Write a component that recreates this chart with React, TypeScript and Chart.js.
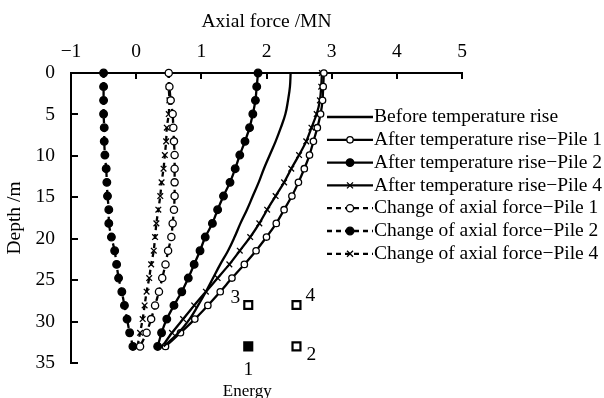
import { useEffect, useRef } from 'react';
import { Chart, registerables } from 'chart.js';

Chart.register(...registerables);

// Depth of each measuring point along the pile (m)
const depths = [0, 1.65, 3.3, 4.95, 6.6, 8.25, 9.9, 11.55, 13.2, 14.85, 16.5, 18.15, 19.8, 21.45, 23.1, 24.75, 26.4, 28.05, 29.7, 31.35, 33];

// Axial force (MN)
const beforeRise = [2.37, 2.36, 2.33, 2.29, 2.22, 2.14, 2.05, 1.96, 1.88, 1.79, 1.70, 1.60, 1.51, 1.41, 1.29, 1.18, 1.07, 0.95, 0.82, 0.65, 0.42];
const afterPile1 = [2.88, 2.87, 2.86, 2.83, 2.78, 2.72, 2.66, 2.58, 2.49, 2.39, 2.27, 2.15, 2.00, 1.84, 1.66, 1.47, 1.29, 1.10, 0.90, 0.68, 0.45];
const afterPile2 = [1.87, 1.85, 1.83, 1.79, 1.74, 1.67, 1.59, 1.52, 1.44, 1.34, 1.25, 1.17, 1.06, 0.98, 0.89, 0.80, 0.70, 0.58, 0.47, 0.39, 0.33];
const afterPile4 = [2.85, 2.84, 2.82, 2.77, 2.69, 2.61, 2.50, 2.38, 2.27, 2.14, 2.01, 1.89, 1.75, 1.59, 1.43, 1.25, 1.07, 0.89, 0.72, 0.55, 0.40];
const changePile1 = [0.50, 0.51, 0.53, 0.56, 0.57, 0.58, 0.59, 0.59, 0.59, 0.59, 0.58, 0.56, 0.54, 0.49, 0.45, 0.40, 0.35, 0.29, 0.23, 0.16, 0.06];
const changePile2 = [-0.50, -0.50, -0.50, -0.50, -0.49, -0.49, -0.48, -0.46, -0.45, -0.44, -0.42, -0.42, -0.38, -0.33, -0.30, -0.27, -0.22, -0.18, -0.14, -0.10, -0.05];
const changePile4 = [0.50, 0.50, 0.51, 0.50, 0.47, 0.46, 0.44, 0.42, 0.39, 0.37, 0.34, 0.31, 0.29, 0.27, 0.23, 0.20, 0.16, 0.13, 0.10, 0.06, 0.02];

const seriesNames = [
  'Before temperature rise',
  'After temperature rise\u2212Pile 1',
  'After temperature rise\u2212Pile 2',
  'After temperature rise\u2212Pile 4',
  'Change of axial force\u2212Pile 1',
  'Change of axial force\u2212Pile 2',
  'Change of axial force\u2212Pile 4',
];

const forceTicks = [-1, 0, 1, 2, 3, 4, 5];
const depthTicks = [0, 5, 10, 15, 20, 25, 30, 35];

// Pile group sketch (drawn in the plot's own coordinates)
const pileForce = [1.72, 2.46, 1.72, 2.46];
const pileDepth = [33, 33, 28, 28];
const pileNames = ['1', '2', '3', '4'];
const energyCaption = 'Energy';

const FONT = "'Liberation Serif', 'Times New Roman', serif";

type Style = { dash: number[]; marker: '' | 'circle' | 'crossRot'; fill: string; radius: number };
const styles: Style[] = [
  { dash: [], marker: '', fill: '#000', radius: 0 },
  { dash: [], marker: 'circle', fill: '#fff', radius: 3.2 },
  { dash: [], marker: 'circle', fill: '#000', radius: 3.8 },
  { dash: [], marker: 'crossRot', fill: '#000', radius: 4 },
  { dash: [5, 4], marker: 'circle', fill: '#fff', radius: 3.6 },
  { dash: [5, 4], marker: 'circle', fill: '#000', radius: 3.8 },
  { dash: [5, 4], marker: 'crossRot', fill: '#000', radius: 4 },
];
const seriesValues = [beforeRise, afterPile1, afterPile2, afterPile4, changePile1, changePile2, changePile4];

function drawMarker(ctx: CanvasRenderingContext2D, s: Style, x: number, y: number) {
  if (!s.marker) return;
  ctx.save();
  ctx.setLineDash([]);
  ctx.lineWidth = 1.3;
  ctx.strokeStyle = '#000';
  if (s.marker === 'circle') {
    ctx.beginPath();
    ctx.arc(x, y, s.radius, 0, Math.PI * 2);
    ctx.fillStyle = s.fill;
    ctx.fill();
    ctx.stroke();
  } else {
    const r = s.radius * 0.75;
    ctx.beginPath();
    ctx.moveTo(x - r, y - r);
    ctx.lineTo(x + r, y + r);
    ctx.moveTo(x + r, y - r);
    ctx.lineTo(x - r, y + r);
    ctx.stroke();
  }
  ctx.restore();
}

const inwardTicks = {
  id: 'inwardTicks',
  afterDraw(chart: any) {
    const { ctx, chartArea, scales } = chart;
    ctx.save();
    ctx.strokeStyle = '#000';
    ctx.lineWidth = 2;
    ctx.beginPath();
    forceTicks.forEach((v) => {
      if (v === forceTicks[0]) return;
      const x = Math.round(scales.x.getPixelForValue(v));
      ctx.moveTo(x, chartArea.top);
      ctx.lineTo(x, chartArea.top + 6);
    });
    depthTicks.forEach((v) => {
      if (v === depthTicks[0]) return;
      const y = Math.round(scales.y.getPixelForValue(v));
      ctx.moveTo(chartArea.left, y);
      ctx.lineTo(chartArea.left + 7, y);
    });
    ctx.stroke();
    ctx.restore();
  },
};

const sideLegend = {
  id: 'sideLegend',
  afterDraw(chart: any) {
    const { ctx } = chart;
    const x0 = 327;
    const x1 = 373;
    const top = 117;
    const step = 22.8;
    ctx.save();
    ctx.font = `19.5px ${FONT}`;
    ctx.fillStyle = '#000';
    ctx.textBaseline = 'middle';
    ctx.textAlign = 'left';
    seriesNames.forEach((name, i) => {
      const s = styles[i];
      const y = top + i * step;
      ctx.strokeStyle = '#000';
      ctx.lineWidth = 2.3;
      ctx.setLineDash(s.dash);
      ctx.beginPath();
      ctx.moveTo(x0, y);
      ctx.lineTo(x1, y);
      ctx.stroke();
      drawMarker(ctx, s, (x0 + x1) / 2, y);
      ctx.setLineDash([]);
      ctx.fillText(name, x1 + 1, y);
    });
    ctx.restore();
  },
};

// Placement of the pile numbers around each square, in pixels
const pileLabelOffsets = [
  [0, 23],
  [15, 8],
  [-13, -7],
  [14, -9],
];

const pileLabels = {
  id: 'pileLabels',
  afterDraw(chart: any) {
    const { ctx, scales } = chart;
    ctx.save();
    ctx.fillStyle = '#000';
    ctx.textAlign = 'center';
    ctx.textBaseline = 'middle';
    ctx.font = `19.5px ${FONT}`;
    pileNames.forEach((n, i) => {
      const x = scales.x.getPixelForValue(pileForce[i]);
      const y = scales.y.getPixelForValue(pileDepth[i]);
      ctx.fillText(n, x + pileLabelOffsets[i][0], y + pileLabelOffsets[i][1]);
    });
    const ex = scales.x.getPixelForValue(pileForce[0]);
    const ey = scales.y.getPixelForValue(pileDepth[0]);
    ctx.font = `17px ${FONT}`;
    ctx.fillText(energyCaption, ex - 1, ey + 45);
    ctx.restore();
  },
};

export default function App() {
  const canvasRef = useRef<HTMLCanvasElement | null>(null);

  useEffect(() => {
    if (!canvasRef.current) return;
    Chart.defaults.color = '#000';

    const datasets: any[] = seriesNames.map((name, i) => {
      const s = styles[i];
      return {
        label: name,
        data: depths.map((d, k) => ({ x: seriesValues[i][k], y: d })),
        showLine: true,
        borderColor: '#000',
        borderWidth: 2.3,
        borderDash: s.dash,
        tension: i === 0 ? 0.4 : 0.2,
        pointStyle: s.marker || 'circle',
        pointRadius: s.marker ? s.radius : 0,
        pointBorderWidth: 1.3,
        pointBackgroundColor: s.fill,
        pointBorderColor: '#000',
        clip: false,
      };
    });

    datasets.push({
      label: 'piles',
      data: pileForce.map((f, i) => ({ x: f, y: pileDepth[i] })),
      showLine: false,
      pointStyle: 'rect',
      pointRadius: 5.6,
      pointBorderWidth: 2.2,
      pointBorderColor: '#000',
      pointBackgroundColor: pileNames.map((n) => (n === '1' ? '#000' : '#fff')),
      clip: false,
    });

    const chart = new Chart(canvasRef.current, {
      type: 'scatter',
      data: { datasets },
      plugins: [inwardTicks, sideLegend, pileLabels],
      options: {
        animation: false,
        responsive: true,
        maintainAspectRatio: false,
        layout: { padding: { left: 0, top: 0, right: 142, bottom: 35 } },
        plugins: { legend: { display: false }, tooltip: { enabled: false } },
        scales: {
          x: {
            type: 'linear',
            position: 'top',
            min: -1,
            max: 5,
            afterBuildTicks: (s: any) => {
              s.ticks = forceTicks.map((v) => ({ value: v }));
            },
            afterFit: (s: any) => {
              s.height = 73;
            },
            ticks: {
              padding: 9,
              font: { family: FONT, size: 19.5 },
              color: '#000',
              callback: (v: any) => String(v).replace('-', '\u2212'),
            },
            grid: { display: false, drawTicks: false },
            border: { display: true, color: '#000', width: 2 },
            title: {
              display: true,
              text: 'Axial force /MN',
              font: { family: FONT, size: 19.5 },
              color: '#000',
              padding: { top: 10, bottom: 0 },
            },
          },
          y: {
            type: 'linear',
            reverse: true,
            min: 0,
            max: 35,
            afterBuildTicks: (s: any) => {
              s.ticks = depthTicks.map((v) => ({ value: v }));
            },
            afterFit: (s: any) => {
              s.width = 71;
            },
            ticks: {
              padding: 16,
              font: { family: FONT, size: 19.5 },
              color: '#000',
            },
            grid: { display: false, drawTicks: false },
            border: { display: true, color: '#000', width: 2 },
            title: {
              display: true,
              text: 'Depth /m',
              font: { family: FONT, size: 19.5 },
              color: '#000',
              padding: { top: 3, bottom: 0 },
            },
          },
        },
      },
    });

    return () => chart.destroy();
  }, []);

  return (
    <div style={{ position: 'fixed', left: 0, top: 0, width: 604, height: 398, background: '#fff' }}>
      <canvas ref={canvasRef} />
    </div>
  );
}
